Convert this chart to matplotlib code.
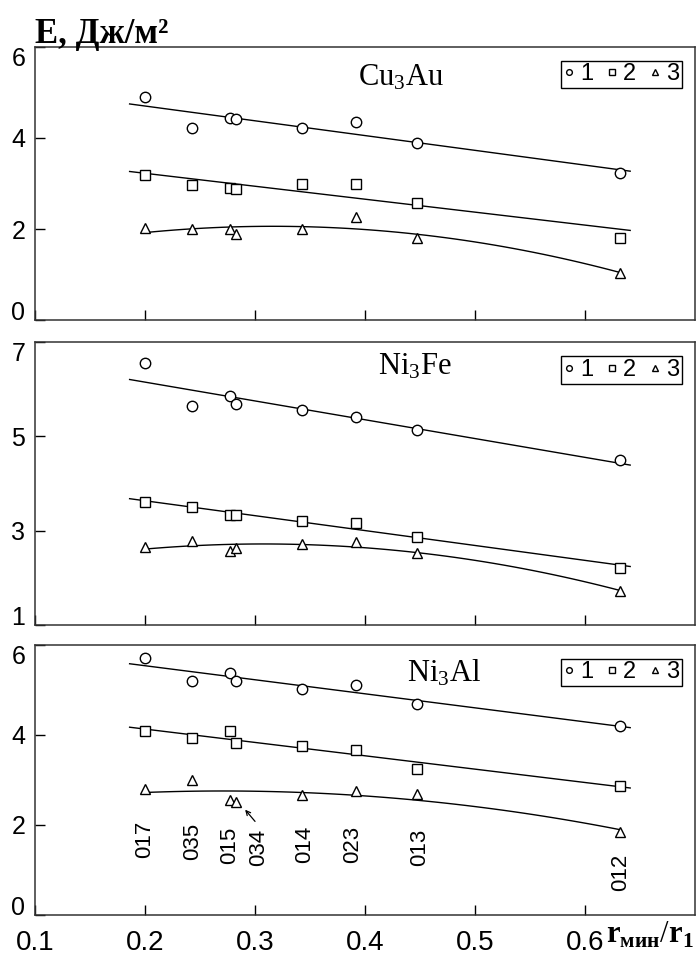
import numpy as np
import matplotlib
matplotlib.use('Agg')
from matplotlib import pyplot as plt

plt.rcParams['font.family'] = ['Liberation Sans', 'DejaVu Sans']
plt.rcParams['mathtext.fontset'] = 'custom'
plt.rcParams['mathtext.rm'] = 'Liberation Serif'
plt.rcParams['mathtext.bf'] = 'Liberation Serif:bold'

# r_min / r_1 for each plane
x = [0.200, 0.243, 0.277, 0.283, 0.343, 0.392, 0.447, 0.632]
planes = ['017', '035', '015', '034', '014', '023', '013', '012']

# E, J/m^2, curves 1, 2, 3 for each alloy
cu3au_1 = [4.89, 4.23, 4.43, 4.41, 4.23, 4.36, 3.90, 3.22]
cu3au_2 = [3.19, 2.97, 2.91, 2.87, 3.00, 3.00, 2.58, 1.81]
cu3au_3 = [2.03, 1.99, 2.00, 1.88, 2.00, 2.26, 1.81, 1.03]

ni3fe_1 = [6.56, 5.64, 5.86, 5.69, 5.56, 5.40, 5.13, 4.50]
ni3fe_2 = [3.60, 3.51, 3.34, 3.34, 3.20, 3.16, 2.87, 2.21]
ni3fe_3 = [2.65, 2.78, 2.56, 2.63, 2.71, 2.77, 2.52, 1.72]

ni3al_1 = [5.71, 5.20, 5.37, 5.20, 5.03, 5.11, 4.70, 4.20]
ni3al_2 = [4.08, 3.93, 4.08, 3.82, 3.75, 3.67, 3.25, 2.86]
ni3al_3 = [2.79, 2.99, 2.55, 2.52, 2.67, 2.75, 2.69, 1.85]

panels = [
    (r'$\mathrm{Cu_3Au}$', (0, 6), [0, 2, 4, 6], cu3au_1, cu3au_2, cu3au_3, (0.49, 0.89)),
    (r'$\mathrm{Ni_3Fe}$', (1, 7), [1, 3, 5, 7], ni3fe_1, ni3fe_2, ni3fe_3, (0.52, 0.913)),
    (r'$\mathrm{Ni_3Al}$', (0, 6), [0, 2, 4, 6], ni3al_1, ni3al_2, ni3al_3, (0.563, 0.896)),
]
boxes = [(0.6649, 0.9508), (0.3455, 0.6419), (0.0419, 0.3246)]

fig = plt.figure(figsize=(7, 9.55), dpi=100)

xs = np.array(x)
for i, ((name, ylim, yticks, s1, s2, s3, name_pos), (b, t)) in enumerate(zip(panels, boxes)):
    ax = fig.add_axes([0.05, b, 0.943, t - b])
    lin_x = np.linspace(0.186, 0.641, 50)
    quad_x = np.linspace(0.200, 0.632, 50)
    mk = dict(ls='none', mfc='white', mec='black', mew=1.0, ms=7.5)
    ax.plot(xs, s1, marker='o', label='1', **mk)
    ax.plot(xs, s2, marker='s', label='2', **mk)
    ax.plot(xs, s3, marker='^', label='3', **mk)
    # trend lines: linear for 1 and 2, parabola for 3
    ax.plot(lin_x, np.polyval(np.polyfit(xs, s1, 1), lin_x), color='black', lw=1.0, zorder=1)
    ax.plot(lin_x, np.polyval(np.polyfit(xs, s2, 1), lin_x), color='black', lw=1.0, zorder=1)
    ax.plot(quad_x, np.polyval(np.polyfit(xs, s3, 2), quad_x), color='black', lw=1.0, zorder=1)

    ax.set_xlim(0.1, 0.7)
    ax.set_ylim(*ylim)
    ax.set_xticks([0.1, 0.2, 0.3, 0.4, 0.5, 0.6])
    ax.set_yticks(yticks)
    ax.tick_params(direction='in', length=7, width=1, labelsize=18, pad=7, colors='black')
    # keep the end labels inside the panel height
    ylabels = ax.get_yticklabels()
    ylabels[0].set_va('baseline')
    ylabels[-1].set_va('top')
    for sp in ax.spines.values():
        sp.set_linewidth(1.1)
        sp.set_color('#333333')
    ax.text(*name_pos, name, transform=ax.transAxes, fontsize=22, va='center', ha='left')

    leg = ax.legend(ncol=3, loc='upper right', bbox_to_anchor=(0.98, 0.95), fontsize=17,
                    markerscale=0.55, handlelength=0.45, handletextpad=0.25, columnspacing=0.55,
                    borderpad=0.12, borderaxespad=0, fancybox=False, framealpha=1)
    leg.get_frame().set_edgecolor('black')
    leg.get_frame().set_linewidth(1.0)

    if i < 2:
        ax.set_xticklabels([])
    else:
        ax.set_xticklabels(['0.1', '0.2', '0.3', '0.4', '0.5', '0.6'])
        ax.tick_params(axis='x', labelsize=20, pad=11)
        # plane indices under the points
        label_y = [1.68, 1.64, 1.55, 1.51, 1.57, 1.57, 1.50, 0.95]
        label_x = [0.200, 0.243, 0.277, 0.303, 0.345, 0.389, 0.450, 0.632]
        for lx, ly, p in zip(label_x, label_y, planes):
            ax.text(lx, ly, p, rotation=90, ha='center', va='center', fontsize=16,
                    family=['Liberation Sans Narrow', 'Liberation Sans'])
        ax.annotate('', xy=(0.291, 2.34), xytext=(0.300, 2.08),
                    arrowprops=dict(arrowstyle='->', lw=0.9, color='black',
                                    shrinkA=0, shrinkB=0, mutation_scale=8))

fig.text(0.05, 0.955, 'E, Дж/м²', fontsize=25, fontweight='bold',
         family=['Liberation Serif', 'DejaVu Serif'], va='baseline', ha='left')
fig.text(0.865, 0.0126, r'$\mathbf{r}_{\mathbf{мин}}/\mathbf{r}_{\mathbf{1}}$', fontsize=22,
         va='baseline', ha='left')

fig.savefig('out.png', dpi=100)
